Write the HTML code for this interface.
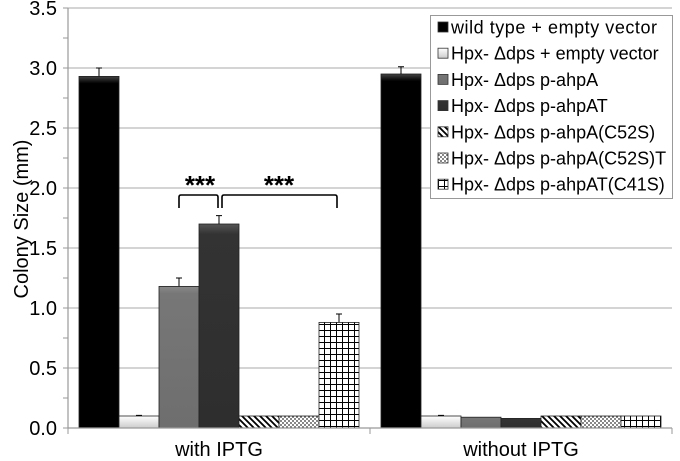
<!DOCTYPE html>
<html><head><meta charset="utf-8"><style>
body{margin:0;background:#fff;}
svg{display:block;font-family:"Liberation Sans",Arial,sans-serif;}
</style></head><body>
<svg id="chart" width="680" height="461" viewBox="0 0 680 461">
<defs>
<linearGradient id="gBlack" x1="0" y1="0" x2="0" y2="1"><stop offset="0" stop-color="#444"/><stop offset="0.02" stop-color="#000"/><stop offset="1" stop-color="#000"/></linearGradient>
<linearGradient id="gLight" x1="0" y1="0" x2="0" y2="1"><stop offset="0" stop-color="#fff"/><stop offset="1" stop-color="#ccc"/></linearGradient>
<linearGradient id="gMid" x1="0" y1="0" x2="0" y2="1"><stop offset="0" stop-color="#8a8a8a"/><stop offset="0.05" stop-color="#777"/><stop offset="1" stop-color="#6e6e6e"/></linearGradient>
<linearGradient id="gDark" x1="0" y1="0" x2="0" y2="1"><stop offset="0" stop-color="#555"/><stop offset="0.05" stop-color="#333"/><stop offset="1" stop-color="#2e2e2e"/></linearGradient>
<pattern id="pDiag" width="6" height="6" patternUnits="userSpaceOnUse"><rect width="6" height="6" fill="#fff"/><path d="M-1,-1 L7,7 M-4,2 L2,8 M2,-4 L8,2" stroke="#000" stroke-width="1.8"/></pattern>
<pattern id="pDot" width="4" height="4" patternUnits="userSpaceOnUse"><rect width="4" height="4" fill="#fff"/><circle cx="1" cy="1" r="0.9" fill="#333"/><circle cx="3" cy="3" r="0.9" fill="#333"/></pattern>
<pattern id="pGrid" width="6" height="6" patternUnits="userSpaceOnUse"><rect width="6" height="6" fill="#fff"/><path d="M0,0.5 H6 M0.5,0 V6" stroke="#000" stroke-width="1"/></pattern>
</defs>
<g id="grid"></g>
<g id="bars"></g>
<g id="axes"></g>
<text x="0" y="0" transform="translate(28,219) rotate(-90)" text-anchor="middle" font-size="20" fill="#000">Colony Size (mm)</text>
<g fill="none" stroke="#000" stroke-width="1.6">
<path d="M179,208 V197 Q179,195 181,195 H216 Q218,195 218,197 V208"/>
<path d="M222,208 V197 Q222,195 224,195 H335 Q337,195 337,197 V208"/>
</g>
<text x="200" y="194" text-anchor="middle" font-size="26" font-weight="bold">***</text>
<text x="279" y="194" text-anchor="middle" font-size="26" font-weight="bold">***</text>
<g id="legend"></g>
</svg>
<script>
const categories = ["with IPTG", "without IPTG"];
const seriesNames = ["wild type + empty vector","Hpx- \u0394dps + empty vector","Hpx- \u0394dps p-ahpA","Hpx- \u0394dps p-ahpAT","Hpx- \u0394dps p-ahpA(C52S)","Hpx- \u0394dps p-ahpA(C52S)T","Hpx- \u0394dps p-ahpAT(C41S)"];
const withIPTG = [2.93, 0.10, 1.18, 1.70, 0.10, 0.10, 0.88];
const withoutIPTG = [2.95, 0.10, 0.09, 0.08, 0.10, 0.10, 0.10];
const errWith = [0.07, 0.005, 0.07, 0.07, 0, 0, 0.07];
const errWithout = [0.06, 0.005, 0, 0, 0, 0, 0];
const yTicks = ["0.0","0.5","1.0","1.5","2.0","2.5","3.0","3.5"];
const fills = ["url(#gBlack)","url(#gLight)","url(#gMid)","url(#gDark)","url(#pDiag)","url(#pDot)","url(#pGrid)"];

const NS="http://www.w3.org/2000/svg";
const X0=68, X1=672, Y0=428, PX=120;
const catW=(X1-X0)/categories.length, barW=40, pad=(catW-barW*7)/2;
const y=v=>Y0-v*PX;
const xBar=(c,s)=>X0+c*catW+pad+s*barW;
function mk(tag,attrs,parent){const e=document.createElementNS(NS,tag);for(const k in attrs)e.setAttribute(k,attrs[k]);parent.appendChild(e);return e;}
const grid=document.getElementById('grid'), axes=document.getElementById('axes'), barsG=document.getElementById('bars'), leg=document.getElementById('legend');

yTicks.forEach(t=>{
  const v=parseFloat(t), yy=y(v);
  if(v>0){const g=mk('line',{x1:X0,x2:X1,y1:yy,y2:yy,stroke:'#aaa','stroke-width':1},grid);
  
  }
  mk('line',{x1:X0-5,x2:X0,y1:yy,y2:yy,stroke:'#999'},axes);
  mk('line',{x1:X0-5,x2:X0,y1:y(v+0.25),y2:y(v+0.25),stroke:'#999'},axes);
  const tl=mk('text',{x:X0-11,y:yy+7,'text-anchor':'end','font-size':20},axes);
  tl.textContent=t;
  
  
});
const ya=mk('line',{x1:X0,x2:X0,y1:y(3.5),y2:Y0,stroke:'#999','stroke-width':1.2},axes);


const xa=mk('line',{x1:X0,x2:X1,y1:Y0,y2:Y0,stroke:'#999','stroke-width':1.2},axes);


for(let i=0;i<=categories.length;i++){const xx=X0+i*catW;mk('line',{x1:xx,x2:xx,y1:Y0,y2:Y0+6,stroke:'#999'},axes);}
categories.forEach((c,i)=>{
  const t=mk('text',{x:X0+(i+0.5)*catW,y:456,'text-anchor':'middle','font-size':20},axes);
  t.textContent=c;
  
  
});
[[withIPTG,errWith],[withoutIPTG,errWithout]].forEach(([vals,errs],c)=>{
  vals.forEach((v,s)=>{
    const xx=xBar(c,s);
    const r=mk('rect',{x:xx,y:y(v),width:barW,height:v*PX,fill:fills[s],stroke:'#222','stroke-width':0.8},barsG);
    
    
    const e=errs[s];
    if(e>0){const cx=xx+barW/2;
      mk('path',{d:`M${cx},${y(v)} V${y(v+e)} M${cx-3},${y(v+e)} H${cx+3}`,stroke:'#000','stroke-width':1,fill:'none'},barsG);}
  });
});
mk('rect',{x:430.5,y:15.5,width:242,height:183,fill:'#fff',stroke:'#999'},leg);
seriesNames.forEach((n,i)=>{
  const yy=27+i*26.2;
  const sw=mk('rect',{x:438,y:yy-5,width:10,height:10,fill:fills[i],stroke:'#333','stroke-width':0.8},leg);
  
  
  const t=mk('text',{x:451,y:yy+6.5,'font-size':18,textLength:(i===0?206:undefined)},leg);
  if(i!==0) t.removeAttribute('textLength');
  t.textContent=n;
  
  
});
</script>
</body></html>
